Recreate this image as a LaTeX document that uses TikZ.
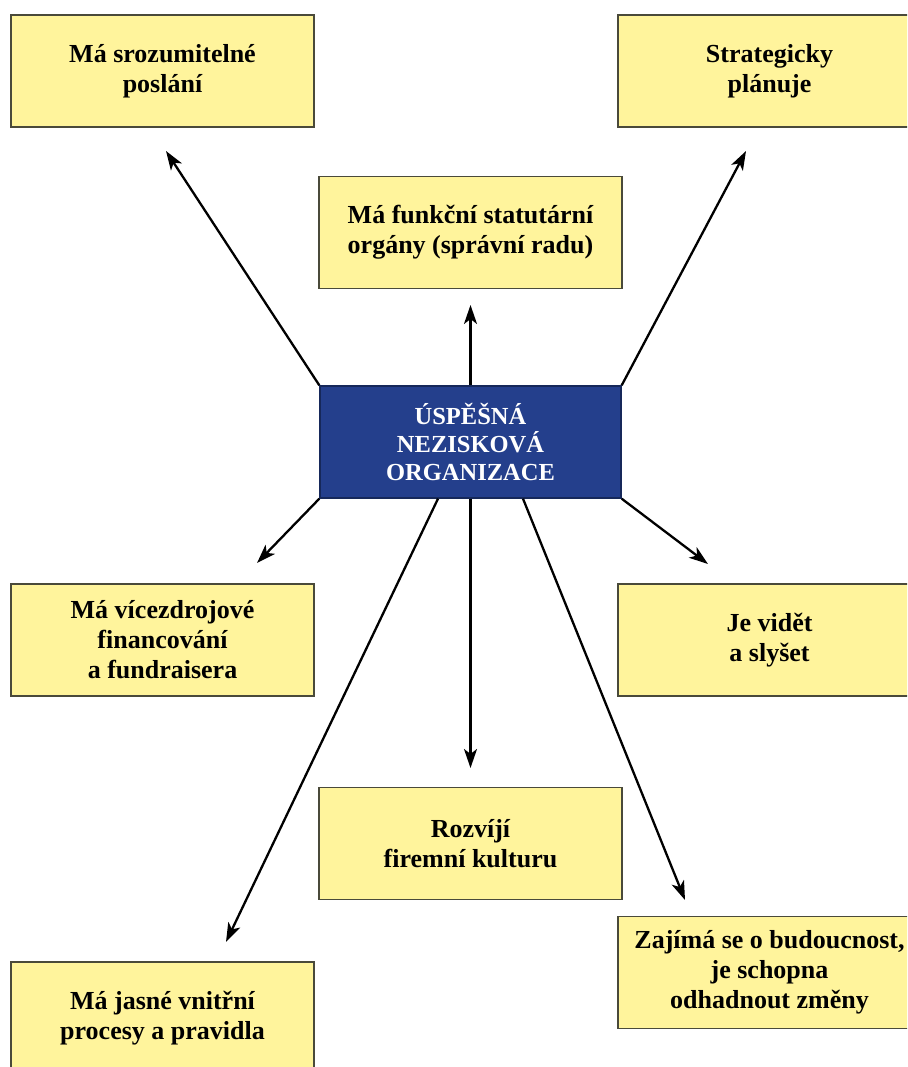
\documentclass[tikz,border=0pt]{standalone}
\usepackage{fontspec}
\setmainfont{Liberation Serif}
\usetikzlibrary{arrows.meta}
\definecolor{boxyellow}{HTML}{FFF49C}
\definecolor{boxedge}{HTML}{4A4A3A}
\definecolor{coreblue}{HTML}{243F8C}
\definecolor{coreedge}{HTML}{16285A}
\begin{document}
\begin{tikzpicture}[x=1pt,y=-1pt,
  card/.style={draw=boxedge, fill=boxyellow, line width=1.4pt, minimum width=303pt, minimum height=112pt, inner sep=0pt, align=center, font=\fontsize{26}{30}\selectfont\bfseries},
  core/.style={draw=coreedge, fill=coreblue, line width=1.4pt, minimum width=301pt, minimum height=112pt, inner sep=0pt, text=white, align=center, font=\fontsize{24.5}{28}\selectfont\bfseries},
  link/.style={line width=2.3pt, -{Stealth[length=19pt,width=13pt,inset=5pt]}}]
\clip (0,0) rectangle (907,1067);
\fill[white] (0,0) rectangle (907,1067);

\node[card] (mise) at (162.5,71) {Má srozumitelné\\poslání};
\node[card] (plan) at (769.5,71) {Strategicky\\plánuje};
\node[card] (organy) at (470.5,232.5) {Má funkční statutární\\orgány (správní radu)};
\node[core] (core) at (470.5,442) {ÚSPĚŠNÁ\\NEZISKOVÁ\\ORGANIZACE};
\node[card] (fin) at (162.5,640) {Má vícezdrojové\\financování\\a fundraisera};
\node[card] (vid) at (769.5,640) {Je vidět\\a slyšet};
\node[card] (kult) at (470.5,843.5) {Rozvíjí\\firemní kulturu};
\node[card] (bud) at (769.5,972.5) {Zajímá se o budoucnost,\\je schopna\\odhadnout změny};
\node[card] (proc) at (162.5,1018) {Má jasné vnitřní\\procesy a pravidla};

\coordinate (tmise) at (166,151);
\coordinate (tplan) at (746,151);
\coordinate (torg) at (470.5,305);
\coordinate (tfin) at (257,563);
\coordinate (tvid) at (708,564);
\coordinate (tproc) at (226,942);
\coordinate (tkult) at (470.5,768);
\coordinate (tbud) at (685,900);

\draw[link] (core.north west) -- (tmise);
\draw[link] (core.north east) -- (tplan);
\draw[link] (core.north) -- (torg);
\draw[link] (core.south west) -- (tfin);
\draw[link] (core.south east) -- (tvid);
\draw[link] ([xshift=-32.5pt]core.south) -- (tproc);
\draw[link] (core.south) -- (tkult);
\draw[link] ([xshift=52.5pt]core.south) -- (tbud);
\end{tikzpicture}
\end{document}
